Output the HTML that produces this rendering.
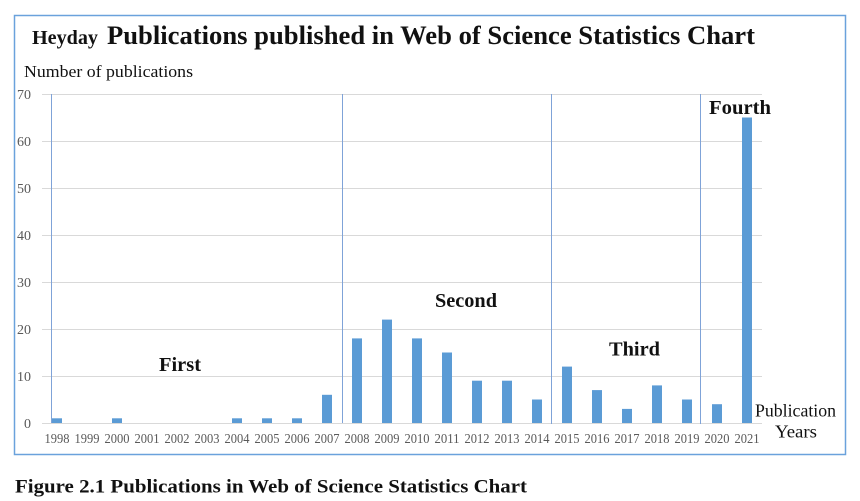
<!DOCTYPE html>
<html>
<head>
<meta charset="utf-8">
<style>
html,body{margin:0;padding:0;background:#fff;}
body{width:860px;height:501px;overflow:hidden;}
svg{display:block;}
</style>
</head>
<body>
<svg width="860" height="501" viewBox="0 0 860 501" xmlns="http://www.w3.org/2000/svg" font-family="'Liberation Serif', serif">
  <!-- frame -->
  <rect x="14.5" y="15.5" width="831" height="439" fill="#fff" stroke="#6aa2dc" stroke-width="1.5"/>

  <!-- title -->
  <text x="32" y="44" font-size="20" font-weight="bold" fill="#111" textLength="66" lengthAdjust="spacingAndGlyphs">Heyday</text>
  <text x="107" y="44" font-size="26.5" font-weight="bold" fill="#111" textLength="648" lengthAdjust="spacingAndGlyphs">Publications published in Web of Science Statistics Chart</text>

  <text x="24" y="77" font-size="17" fill="#111" textLength="169" lengthAdjust="spacingAndGlyphs">Number of publications</text>

  <!-- gridlines -->
  <g stroke="#d9d9d9" stroke-width="1">
    <line x1="42" y1="94.5" x2="762" y2="94.5"/>
    <line x1="42" y1="141.5" x2="762" y2="141.5"/>
    <line x1="42" y1="188.5" x2="762" y2="188.5"/>
    <line x1="42" y1="235.5" x2="762" y2="235.5"/>
    <line x1="42" y1="282.5" x2="762" y2="282.5"/>
    <line x1="42" y1="329.5" x2="762" y2="329.5"/>
    <line x1="42" y1="376.5" x2="762" y2="376.5"/>
    <line x1="42" y1="423.5" x2="762" y2="423.5"/>
  </g>

  <!-- y labels -->
  <g font-size="14" fill="#595959" text-anchor="end">
    <text x="31" y="99">70</text>
    <text x="31" y="146">60</text>
    <text x="31" y="193">50</text>
    <text x="31" y="240">40</text>
    <text x="31" y="287">30</text>
    <text x="31" y="334">20</text>
    <text x="31" y="381">10</text>
    <text x="31" y="428">0</text>
  </g>

  <!-- separators -->
  <g stroke="#7fa3d8" stroke-width="1">
    <line x1="51.5" y1="94" x2="51.5" y2="423"/>
    <line x1="342.5" y1="94" x2="342.5" y2="423"/>
    <line x1="551.5" y1="94" x2="551.5" y2="424"/>
    <line x1="700.5" y1="94" x2="700.5" y2="424"/>
  </g>

  <!-- bars: zero at y=423, 4.7px per unit; centers 57+30i -->
  <g fill="#5b9bd5">
    <rect x="52" y="418.3" width="10" height="4.7"/>
    <rect x="112" y="418.3" width="10" height="4.7"/>
    <rect x="232" y="418.3" width="10" height="4.7"/>
    <rect x="262" y="418.3" width="10" height="4.7"/>
    <rect x="292" y="418.3" width="10" height="4.7"/>
    <rect x="322" y="394.8" width="10" height="28.2"/>
    <rect x="352" y="338.4" width="10" height="84.6"/>
    <rect x="382" y="319.6" width="10" height="103.4"/>
    <rect x="412" y="338.4" width="10" height="84.6"/>
    <rect x="442" y="352.5" width="10" height="70.5"/>
    <rect x="472" y="380.7" width="10" height="42.3"/>
    <rect x="502" y="380.7" width="10" height="42.3"/>
    <rect x="532" y="399.5" width="10" height="23.5"/>
    <rect x="562" y="366.6" width="10" height="56.4"/>
    <rect x="592" y="390.1" width="10" height="32.9"/>
    <rect x="622" y="408.9" width="10" height="14.1"/>
    <rect x="652" y="385.4" width="10" height="37.6"/>
    <rect x="682" y="399.5" width="10" height="23.5"/>
    <rect x="712" y="404.2" width="10" height="18.8"/>
    <rect x="742" y="117.5" width="10" height="305.5"/>
  </g>

  <!-- x labels -->
  <g font-size="14" fill="#595959" text-anchor="middle">
    <text x="57" y="443" textLength="25" lengthAdjust="spacingAndGlyphs">1998</text>
    <text x="87" y="443" textLength="25" lengthAdjust="spacingAndGlyphs">1999</text>
    <text x="117" y="443" textLength="25" lengthAdjust="spacingAndGlyphs">2000</text>
    <text x="147" y="443" textLength="25" lengthAdjust="spacingAndGlyphs">2001</text>
    <text x="177" y="443" textLength="25" lengthAdjust="spacingAndGlyphs">2002</text>
    <text x="207" y="443" textLength="25" lengthAdjust="spacingAndGlyphs">2003</text>
    <text x="237" y="443" textLength="25" lengthAdjust="spacingAndGlyphs">2004</text>
    <text x="267" y="443" textLength="25" lengthAdjust="spacingAndGlyphs">2005</text>
    <text x="297" y="443" textLength="25" lengthAdjust="spacingAndGlyphs">2006</text>
    <text x="327" y="443" textLength="25" lengthAdjust="spacingAndGlyphs">2007</text>
    <text x="357" y="443" textLength="25" lengthAdjust="spacingAndGlyphs">2008</text>
    <text x="387" y="443" textLength="25" lengthAdjust="spacingAndGlyphs">2009</text>
    <text x="417" y="443" textLength="25" lengthAdjust="spacingAndGlyphs">2010</text>
    <text x="447" y="443" textLength="25" lengthAdjust="spacingAndGlyphs">2011</text>
    <text x="477" y="443" textLength="25" lengthAdjust="spacingAndGlyphs">2012</text>
    <text x="507" y="443" textLength="25" lengthAdjust="spacingAndGlyphs">2013</text>
    <text x="537" y="443" textLength="25" lengthAdjust="spacingAndGlyphs">2014</text>
    <text x="567" y="443" textLength="25" lengthAdjust="spacingAndGlyphs">2015</text>
    <text x="597" y="443" textLength="25" lengthAdjust="spacingAndGlyphs">2016</text>
    <text x="627" y="443" textLength="25" lengthAdjust="spacingAndGlyphs">2017</text>
    <text x="657" y="443" textLength="25" lengthAdjust="spacingAndGlyphs">2018</text>
    <text x="687" y="443" textLength="25" lengthAdjust="spacingAndGlyphs">2019</text>
    <text x="717" y="443" textLength="25" lengthAdjust="spacingAndGlyphs">2020</text>
    <text x="747" y="443" textLength="25" lengthAdjust="spacingAndGlyphs">2021</text>
  </g>

  <!-- phase labels -->
  <g font-size="20.5" font-weight="bold" fill="#111">
    <text x="159" y="371" textLength="42" lengthAdjust="spacingAndGlyphs">First</text>
    <text x="435" y="307" textLength="62" lengthAdjust="spacingAndGlyphs">Second</text>
    <text x="609" y="355.5" textLength="51" lengthAdjust="spacingAndGlyphs">Third</text>
    <text x="709" y="114" textLength="62" lengthAdjust="spacingAndGlyphs">Fourth</text>
  </g>

  <!-- axis title -->
  <text x="755" y="416.5" font-size="17.5" fill="#111" textLength="81" lengthAdjust="spacingAndGlyphs">Publication</text>
  <text x="775" y="437.5" font-size="17.5" fill="#111" textLength="42" lengthAdjust="spacingAndGlyphs">Years</text>

  <!-- caption -->
  <text x="15" y="492.5" font-size="19" font-weight="bold" fill="#111" textLength="512" lengthAdjust="spacingAndGlyphs">Figure 2.1 Publications in Web of Science Statistics Chart</text>
</svg>
</body>
</html>
